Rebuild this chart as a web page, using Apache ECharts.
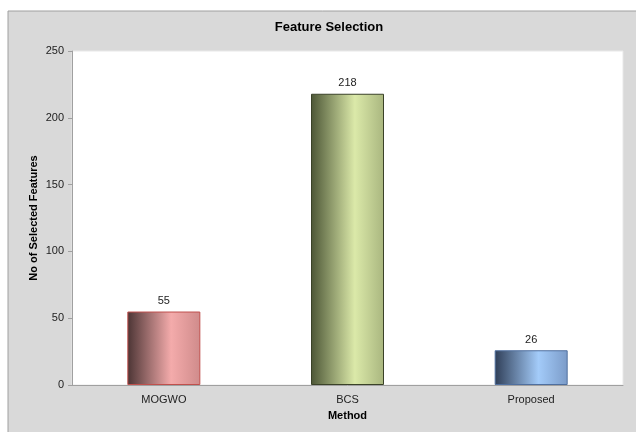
<!DOCTYPE html>
<html>
<head>
<meta charset="utf-8">
<script src="https://cdn.jsdelivr.net/npm/echarts@6/dist/echarts.min.js"></script>
<style>
  html, body { margin: 0; padding: 0; background: #ffffff; }
  #chart { width: 636px; height: 432px; }
</style>
</head>
<body>
<div id="chart"></div>
<script>
// Number of features chosen by each selection method
const methods = ['MOGWO', 'BCS', 'Proposed'];
const selectedFeatures = [55, 218, 26];
const yTicks = { min: 0, max: 250, interval: 50 };

// Cylinder-like shading per bar: dark edge, bright highlight, softer right side
const barShades = [
  { dark: '#4b3434', light: '#f4abab', right: '#cf8b8b', border: '#c0504d' },
  { dark: '#4c5636', light: '#dbe9a9', right: '#a9b67f', border: '#3a4228' },
  { dark: '#2f3e57', light: '#a3cbf9', right: '#7b9bc8', border: '#4f6f9f' }
];

function shade(s) {
  return {
    type: 'linear', x: 0, y: 0, x2: 1, y2: 0,
    colorStops: [
      { offset: 0, color: s.dark },
      { offset: 0.6, color: s.light },
      { offset: 1, color: s.right }
    ]
  };
}

const chart = echarts.init(document.getElementById('chart'), null, { renderer: 'canvas' });
const font = 'Liberation Sans, Arial, sans-serif';

chart.setOption({
  backgroundColor: '#ffffff',
  animation: false,
  graphic: [{
    type: 'rect',
    z: -10,
    shape: { x: 8, y: 11, width: 640, height: 440 },
    style: { fill: '#d9d9d9', stroke: '#a0a0a0', lineWidth: 1 }
  }],
  title: {
    text: 'Feature Selection',
    left: 324, top: 16, textAlign: 'center',
    textStyle: { fontFamily: font, fontSize: 13, fontWeight: 'bold', color: '#000' }
  },
  grid: {
    left: 72, right: 13, top: 51, bottom: 47,
    show: true, backgroundColor: '#ffffff', borderColor: '#e8e8e8', borderWidth: 1
  },
  xAxis: {
    type: 'category',
    data: methods,
    name: 'Method',
    nameLocation: 'middle',
    nameGap: 25,
    nameMoveOverlap: false,
    nameTextStyle: { fontFamily: font, fontSize: 11, fontWeight: 'bold', color: '#000' },
    axisLine: { lineStyle: { color: '#a0a0a0', width: 1 } },
    axisTick: { show: false },
    axisLabel: { fontFamily: font, fontSize: 11, color: '#222', margin: 9 }
  },
  yAxis: {
    type: 'value',
    min: yTicks.min, max: yTicks.max, interval: yTicks.interval,
    name: 'No of Selected Features',
    nameLocation: 'middle',
    nameGap: 33,
    nameMoveOverlap: false,
    nameTextStyle: { fontFamily: font, fontSize: 11, fontWeight: 'bold', color: '#000' },
    axisLine: { show: true, lineStyle: { color: '#a0a0a0', width: 1 } },
    axisTick: { show: true, length: 4, lineStyle: { color: '#a0a0a0' } },
    axisLabel: { fontFamily: font, fontSize: 11, color: '#222', margin: 8 },
    splitLine: { show: false }
  },
  series: [{
    type: 'bar',
    barWidth: 73,
    data: selectedFeatures.map((v, i) => ({
      value: v,
      itemStyle: {
        color: shade(barShades[i]),
        borderColor: barShades[i].border,
        borderWidth: 1
      }
    })),
    label: {
      show: true, position: 'top', distance: 5,
      fontFamily: font, fontSize: 11, color: '#222'
    }
  }]
});
</script>
</body>
</html>
